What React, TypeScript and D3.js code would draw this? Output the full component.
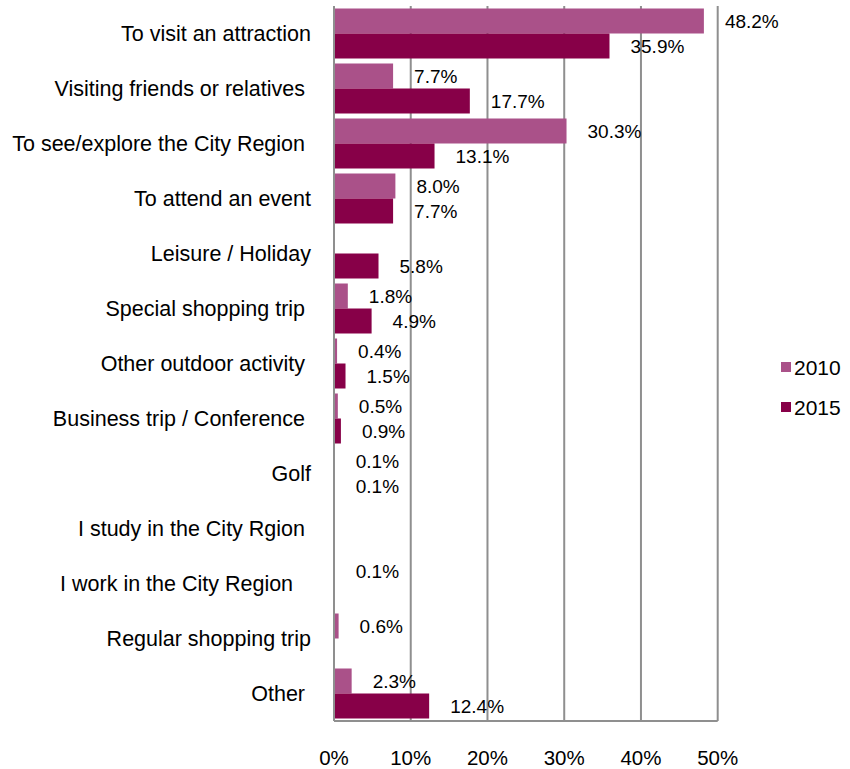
import React from "react";
import * as d3 from "d3";

const categories = [
  "To visit an attraction",
  "Visiting friends or relatives ",
  "To see/explore the City Region ",
  "To attend an event",
  "Leisure / Holiday",
  "Special shopping trip ",
  "Other outdoor activity ",
  "Business trip / Conference ",
  "Golf",
  "I study in the City Rgion ",
  "I work in the City Region   ",
  "Regular shopping trip",
  "Other ",
];

const seriesNames = ["2010", "2015"];
const values2010: (number | null)[] = [48.2, 7.7, 30.3, 8.0, null, 1.8, 0.4, 0.5, 0.1, null, 0.1, 0.6, 2.3];
const values2015: (number | null)[] = [35.9, 17.7, 13.1, 7.7, 5.8, 4.9, 1.5, 0.9, 0.1, null, null, null, 12.4];
const xTicks = [0, 10, 20, 30, 40, 50];

const colors = ["#AA5189", "#870048"];
const font = "'Liberation Sans', Arial, sans-serif";

const width = 850;
const height = 769;
const plot = { left: 334, right: 717.7, top: 6, bottom: 721 };

const App: React.FC = () => {
  const x = d3.scaleLinear().domain([0, 50]).range([plot.left, plot.right]);
  const y = d3.scaleBand<string>().domain(categories).range([plot.top, plot.bottom]);
  const ySub = d3
    .scaleBand<string>()
    .domain(seriesNames)
    .range([0, y.bandwidth()])
    .paddingInner(0)
    .paddingOuter(0.1);

  const series = [values2010, values2015];

  // label sits a bit past the bar end, but never closer than this to the axis
  const labelX = (v: number) => Math.max(x(v) + 21, x(0) + 16);

  return (
    <svg
      width={width}
      height={height}
      style={{ position: "absolute", left: 0, top: 0, background: "#fff" }}
      fontFamily={font}
    >
      {/* gridlines */}
      {xTicks.map((t) => (
        <line
          key={"g" + t}
          x1={x(t)}
          x2={x(t)}
          y1={plot.top}
          y2={plot.bottom}
          stroke="#8f8f8f"
          strokeWidth={2}
        />
      ))}
      <line x1={x(0)} x2={x(50)} y1={plot.bottom} y2={plot.bottom} stroke="#8f8f8f" strokeWidth={2} />

      {/* bars */}
      {series.map((vals, si) =>
        vals.map((v, i) =>
          v == null ? null : (
            <rect
              key={`b${si}-${i}`}
              x={x(0) + 1}
              y={y(categories[i])! + ySub(seriesNames[si])!}
              width={Math.max(0, x(v) - x(0) - 1)}
              height={ySub.bandwidth()}
              fill={colors[si]}
            />
          )
        )
      )}

      {/* value labels */}
      {series.map((vals, si) =>
        vals.map((v, i) =>
          v == null ? null : (
            <text
              key={`l${si}-${i}`}
              x={labelX(v)}
              y={y(categories[i])! + ySub(seriesNames[si])! + ySub.bandwidth() / 2 + 6.5}
              fontSize={19}
              fill="#000"
            >
              {v.toFixed(1) + "%"}
            </text>
          )
        )
      )}

      {/* category labels */}
      {categories.map((c) => (
        <text
          key={c}
          x={311}
          y={y(c)! + y.bandwidth() / 2 + 7}
          textAnchor="end"
          fontSize={21.5}
          style={{ whiteSpace: "pre" }}
          fill="#000"
        >
          {c}
        </text>
      ))}

      {/* x tick labels */}
      {xTicks.map((t) => (
        <text key={"t" + t} x={x(t)} y={765} textAnchor="middle" fontSize={20.5} fill="#000">
          {t + "%"}
        </text>
      ))}

      {/* legend */}
      {seriesNames.map((s, i) => (
        <g key={s} transform={`translate(781, ${362 + i * 40})`}>
          <rect x={0} y={0} width={10} height={10} fill={colors[i]} />
          <text x={13} y={12.5} fontSize={21} fill="#000">
            {s}
          </text>
        </g>
      ))}
    </svg>
  );
};

export default App;
